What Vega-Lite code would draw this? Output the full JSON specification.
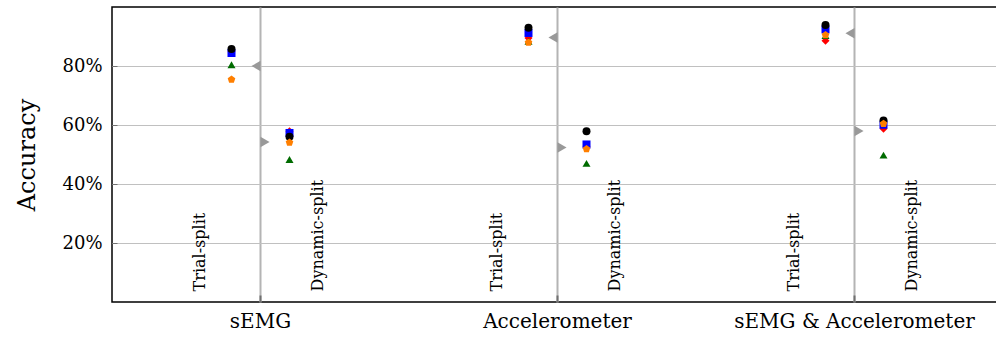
{
  "$schema": "https://vega.github.io/schema/vega-lite/v6.json",
  "autosize": "none",
  "padding": {"left": 112, "top": 7, "right": 0, "bottom": 36},
  "width": 891,
  "height": 295,
  "background": "white",
  "config": {
    "font": "DejaVu Serif",
    "view": {"stroke": "black", "strokeWidth": 1.5},
    "axis": {"labelFont": "DejaVu Serif", "titleFont": "DejaVu Serif", "labelColor": "black", "titleColor": "black", "domain": false}
  },
  "datasets": {
    "points": [
      {"modality": "sEMG", "split": "Trial-split", "model": "M3", "acc": 0.848},
      {"modality": "sEMG", "split": "Trial-split", "model": "M2", "acc": 0.844},
      {"modality": "sEMG", "split": "Trial-split", "model": "M1", "acc": 0.858},
      {"modality": "sEMG", "split": "Trial-split", "model": "M4", "acc": 0.804},
      {"modality": "sEMG", "split": "Trial-split", "model": "M5", "acc": 0.754},
      {"modality": "sEMG", "split": "Dynamic-split", "model": "M3", "acc": 0.579},
      {"modality": "sEMG", "split": "Dynamic-split", "model": "M2", "acc": 0.573},
      {"modality": "sEMG", "split": "Dynamic-split", "model": "M1", "acc": 0.560},
      {"modality": "sEMG", "split": "Dynamic-split", "model": "M4", "acc": 0.483},
      {"modality": "sEMG", "split": "Dynamic-split", "model": "M5", "acc": 0.541},
      {"modality": "Accelerometer", "split": "Trial-split", "model": "M3", "acc": 0.895},
      {"modality": "Accelerometer", "split": "Trial-split", "model": "M2", "acc": 0.912},
      {"modality": "Accelerometer", "split": "Trial-split", "model": "M1", "acc": 0.930},
      {"modality": "Accelerometer", "split": "Trial-split", "model": "M4", "acc": 0.884},
      {"modality": "Accelerometer", "split": "Trial-split", "model": "M5", "acc": 0.880},
      {"modality": "Accelerometer", "split": "Dynamic-split", "model": "M3", "acc": 0.528},
      {"modality": "Accelerometer", "split": "Dynamic-split", "model": "M2", "acc": 0.534},
      {"modality": "Accelerometer", "split": "Dynamic-split", "model": "M1", "acc": 0.579},
      {"modality": "Accelerometer", "split": "Dynamic-split", "model": "M4", "acc": 0.470},
      {"modality": "Accelerometer", "split": "Dynamic-split", "model": "M5", "acc": 0.519},
      {"modality": "sEMG & Accelerometer", "split": "Trial-split", "model": "M3", "acc": 0.886},
      {"modality": "sEMG & Accelerometer", "split": "Trial-split", "model": "M2", "acc": 0.924},
      {"modality": "sEMG & Accelerometer", "split": "Trial-split", "model": "M1", "acc": 0.939},
      {"modality": "sEMG & Accelerometer", "split": "Trial-split", "model": "M4", "acc": 0.903},
      {"modality": "sEMG & Accelerometer", "split": "Trial-split", "model": "M5", "acc": 0.905},
      {"modality": "sEMG & Accelerometer", "split": "Dynamic-split", "model": "M3", "acc": 0.587},
      {"modality": "sEMG & Accelerometer", "split": "Dynamic-split", "model": "M2", "acc": 0.601},
      {"modality": "sEMG & Accelerometer", "split": "Dynamic-split", "model": "M1", "acc": 0.615},
      {"modality": "sEMG & Accelerometer", "split": "Dynamic-split", "model": "M4", "acc": 0.498},
      {"modality": "sEMG & Accelerometer", "split": "Dynamic-split", "model": "M5", "acc": 0.604}
    ],
    "refs": [
      {"modality": "sEMG", "split": "Trial-split", "acc": 0.800},
      {"modality": "sEMG", "split": "Dynamic-split", "acc": 0.542},
      {"modality": "Accelerometer", "split": "Trial-split", "acc": 0.897},
      {"modality": "Accelerometer", "split": "Dynamic-split", "acc": 0.524},
      {"modality": "sEMG & Accelerometer", "split": "Trial-split", "acc": 0.911},
      {"modality": "sEMG & Accelerometer", "split": "Dynamic-split", "acc": 0.580}
    ]
  },
  "encoding": {
    "x": {
      "field": "modality", "type": "nominal",
      "sort": ["sEMG", "Accelerometer", "sEMG & Accelerometer"],
      "scale": {"paddingInner": 0, "paddingOuter": 0},
      "axis": {
        "title": null, "labelAngle": 0, "labelFontSize": 20, "labelPadding": 16, "labelLimit": 0,
        "ticks": true, "tickSize": -7, "tickColor": "#707070", "tickWidth": 2, "bandPosition": 0.5,
        "grid": true, "gridColor": "#b4b4b4", "gridWidth": 2
      }
    },
    "y": {
      "field": "acc", "type": "quantitative",
      "scale": {"domain": [0, 1], "nice": false},
      "axis": {
        "title": "Accuracy", "titleFontSize": 24, "titleFontWeight": "normal", "titlePadding": 22,
        "values": [0.2, 0.4, 0.6, 0.8], "format": ".0%",
        "labelFontSize": 18, "labelPadding": 15,
        "ticks": true, "tickSize": -5, "tickColor": "#707070", "tickWidth": 1,
        "grid": true, "gridColor": "#c0c0c0", "gridWidth": 1
      }
    }
  },
  "layer": [
    {
      "data": {"name": "refs"},
      "mark": {"type": "text", "angle": 270, "align": "left", "baseline": "middle", "fontSize": 16, "font": "DejaVu Serif", "color": "black"},
      "encoding": {
        "y": {"datum": 0.036},
        "xOffset": {"field": "split", "type": "nominal", "scale": {"domain": ["Trial-split", "Dynamic-split"], "range": [28.5, 264.5]}},
        "text": {"field": "split"}
      }
    },
    {
      "data": {"name": "refs"},
      "mark": {"type": "point", "filled": true, "opacity": 1, "color": "#999999", "size": 110},
      "encoding": {
        "xOffset": {"field": "split", "type": "nominal", "scale": {"domain": ["Trial-split", "Dynamic-split"], "range": [139.5, 157.5]}},
        "shape": {"field": "split", "type": "nominal", "scale": {"domain": ["Trial-split", "Dynamic-split"], "range": ["triangle-left", "triangle-right"]}, "legend": null}
      }
    },
    {
      "data": {"name": "points"},
      "mark": {"type": "point", "filled": true, "opacity": 1, "size": 64},
      "encoding": {
        "xOffset": {"field": "split", "type": "nominal", "scale": {"domain": ["Trial-split", "Dynamic-split"], "range": [90.5, 206.5]}},
        "color": {"field": "model", "type": "nominal", "scale": {"domain": ["M1", "M2", "M3", "M4", "M5"], "range": ["#000000", "#0000ff", "#ff0000", "#006b00", "#ff7f00"]}, "legend": null},
        "shape": {"field": "model", "type": "nominal", "scale": {"domain": ["M1", "M2", "M3", "M4", "M5"], "range": ["circle", "square", "diamond", "triangle-up", "M0,-1L0.951,-0.309L0.588,0.809L-0.588,0.809L-0.951,-0.309Z"]}, "legend": null}
      }
    }
  ],
  "resolve": {"scale": {"xOffset": "independent", "shape": "independent", "color": "independent"}}
}
